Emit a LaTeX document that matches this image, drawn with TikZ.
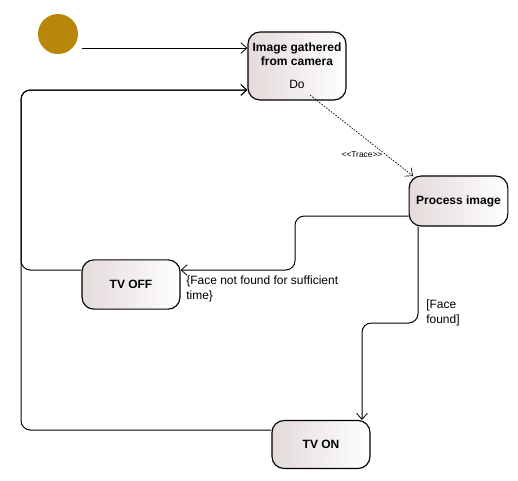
\documentclass[tikz,border=0pt]{standalone}
\usepackage{fontspec}
\setmainfont{Liberation Sans}
\usetikzlibrary{arrows.meta}
\definecolor{stfill}{RGB}{228,218,218}
\definecolor{initc}{RGB}{184,134,11}
\begin{document}
\begin{tikzpicture}[x=0.75pt,y=-0.75pt,
  statebox/.style={draw, line width=0.85pt, rounded corners=9pt, left color=stfill, right color=white,
    inner sep=0pt, align=center, font=\fontsize{9}{10.5}\selectfont\bfseries},
  arr/.style={draw, line width=0.75pt, -{Straight Barb[length=4.5pt,width=8pt,line width=0.6pt]}},
  loop/.style={arr, rounded corners=7pt},
  trace/.style={draw, line width=0.5pt, dash pattern=on 1.2pt off 1pt,
    -{Straight Barb[length=4.5pt,width=8pt,line width=0.5pt]}},
  lbl/.style={font=\fontsize{9}{10.8}\selectfont, align=left, inner sep=0pt, anchor=north west}]
\useasboundingbox (0,0) rectangle (518,480);
\fill[white] (0,0) rectangle (518,480);

% initial state
\node[circle, fill=initc, minimum size=30pt, inner sep=0pt] (init) at (58,34) {};

% states
\node[statebox, minimum width=73.5pt, minimum height=51pt] (img) at (297,66)
  {Image gathered\\from camera\\[7pt]{\mdseries Do}};
\node[statebox, minimum width=74pt, minimum height=37.5pt] (proc) at (458.5,201) {Process image};
\node[statebox, minimum width=73.5pt, minimum height=37pt] (tvoff) at (131,284.5) {TV OFF};
\node[statebox, minimum width=73.5pt, minimum height=36pt] (tvon) at (321,444.5) {TV ON};

% helper coordinates
\coordinate (s0) at (82,48);
\coordinate (tr0) at (310,95);
\coordinate (tr1) at (413,176);
\coordinate (p0) at (proc.west |- 0,216);
\coordinate (p1) at (295,216);
\coordinate (p2) at (295,270);
\coordinate (q0) at (proc.south -| 418,0);
\coordinate (q1) at (418,323);
\coordinate (q2) at (362,323);
\coordinate (lx) at (21,90);
\coordinate (la) at (21,270);
\coordinate (lb) at (21,430);

% connectors
\draw[arr] (s0) -- (img.west |- s0);
\draw[trace] (tr0) -- (tr1);
\node[font=\fontsize{6.3}{7}\selectfont, inner sep=0pt] (tracelbl) at (362,155) {<\kern0pt<Trace>\kern0pt>};
\draw[loop] (p0) -- (p1) -- (p2) -- (tvoff.east |- p2);
\draw[loop] (q0) -- (q1) -- (q2) -- (tvon.north -| q2);
\draw[loop] (tvoff.west |- la) -- (la) -- (lx) -- (img.west |- lx);
\draw[loop] (tvon.west |- lb) -- (lb) -- (lx) -- (img.west |- lx);

% labels
\node[lbl] (nf) at (186,276) {\{Face not found for sufficient\\time\}};
\node[lbl] (ff) at (426,300) {[Face\\found]};
\end{tikzpicture}
\end{document}
